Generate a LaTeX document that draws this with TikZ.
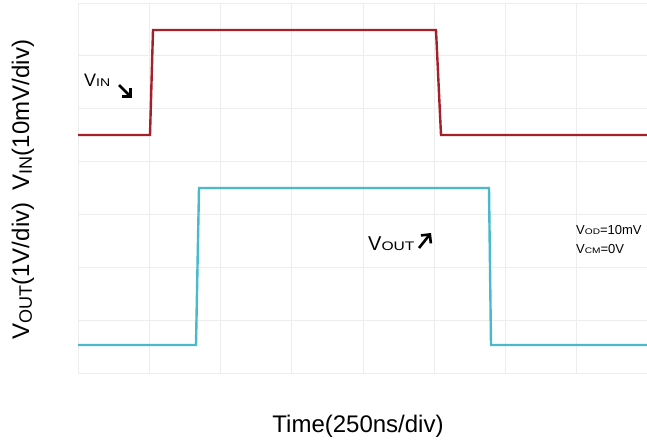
\documentclass[tikz,border=0pt]{standalone}
\usepackage{fontspec}
\setmainfont{Liberation Sans}
\usetikzlibrary{arrows.meta}
\definecolor{vinred}{RGB}{166,32,42}
\definecolor{voutcyan}{RGB}{72,186,204}
\newcommand{\subtxt}[1]{\scalebox{.78}[.62]{#1}}
\newcommand{\axsub}[1]{\raisebox{-.12em}{\scalebox{.75}{#1}}}

\begin{document}
\begin{tikzpicture}[x=1pt,y=-1pt,
  gridline/.style={draw=black!7,line width=0.8pt},
  trace/.style={line width=2.4pt,line join=miter},
  axis label/.style={inner sep=0pt,anchor=base,font=\fontsize{24}{28}\selectfont},
  tag/.style={inner sep=0pt,anchor=base west},
  pointer/.style={line width=2.6pt,-{Straight Barb[angle=90:9pt]}}]

  \useasboundingbox (0,0) rectangle (647,441);

  \foreach \i in {0,...,8}
    \draw[gridline] (78+71.25*\i,3) -- (78+71.25*\i,373);
  \foreach \j in {0,...,7}
    \draw[gridline] (78,3+52.86*\j) -- (648,3+52.86*\j);

  \draw[trace,vinred] (78,135) -- (150,135) -- (153,30) -- (436,30) -- (441,135) -- (647,135);
  \draw[trace,voutcyan] (78,345) -- (196,345) -- (199,188) -- (489,188) -- (491,345) -- (647,345);

  \node[axis label,rotate=90] (vinaxis) at (29,115) {V\axsub{IN}(10mV/div)};
  \node[axis label,rotate=90] (voutaxis) at (29,271) {V\axsub{OUT}(1V/div)};
  \node[axis label] (timeaxis) at (358,432) {Time(250ns/div)};

  \node[tag,font=\fontsize{18}{21}\selectfont] (vinlabel) at (84,87) {V\subtxt{IN}};
  \node[tag,font=\fontsize{20}{24}\selectfont] (voutlabel) at (368,250) {V\subtxt{OUT}};
  \node[tag,font=\fontsize{13}{15}\selectfont] (vodlabel) at (576,234) {V\subtxt{OD}=10mV};
  \node[tag,font=\fontsize{13}{15}\selectfont] (vcmlabel) at (576,253) {V\subtxt{CM}=0V};

  \coordinate (vintail) at (119,85);
  \coordinate (vintip) at (132,98);
  \coordinate (vouttail) at (419,248);
  \coordinate (vouttip) at (431,233);

  \path[pointer]
   (vintail) edge (vintip)
   (vouttail) edge (vouttip);
\end{tikzpicture}
\end{document}
